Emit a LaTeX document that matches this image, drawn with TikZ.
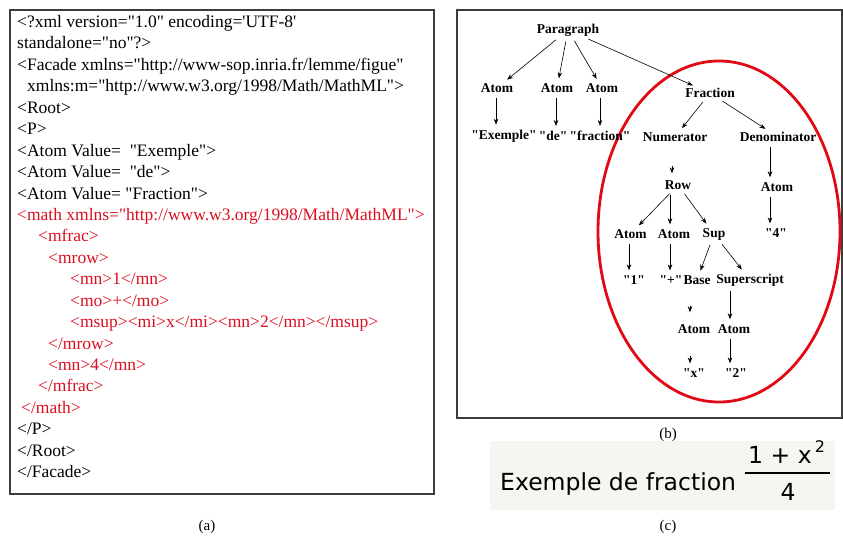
\documentclass[tikz,border=0pt]{standalone}
\usepackage{fontspec}
\setmainfont{Liberation Serif}[Ligatures=TeXOff]
\newfontfamily\dvsans{DejaVu Sans}
\usetikzlibrary{arrows.meta}
\definecolor{codered}{RGB}{218,16,32}
\definecolor{ellred}{RGB}{225,10,20}
\definecolor{boxgray}{RGB}{60,60,60}
\definecolor{cbg}{RGB}{244,246,241}
\begin{document}
\begin{tikzpicture}[x=1pt,y=-1pt,
  code/.style={anchor=base west, inner sep=0pt, font=\fontsize{17.5}{21}\selectfont},
  rcode/.style={code, text=codered},
  tn/.style={font=\bfseries\fontsize{13.5}{15}\selectfont, inner sep=1pt},
  arr/.style={-{Stealth[length=6pt,width=4.5pt]}, line width=0.6pt, shorten <=4pt, shorten >=4pt},
  tip/.style={-{Stealth[length=6pt,width=4.5pt]}, line width=0.6pt},
  capt/.style={font=\fontsize{15}{17}\selectfont, inner sep=0pt},
  panel/.style={draw=boxgray, line width=1.2pt},
  csans/.style={font=\dvsans\fontsize{23.5}{26}\selectfont, inner sep=0pt}]
\useasboundingbox (0,0) rectangle (843,541);
% ---------- panel (a)
\draw[panel] (10,10) rectangle (434,494);
\node[code] (l1) at (17,27.5) {<?xml version="1.0" encoding='UTF-8'};
\node[code] (l2) at (17,48.9) {standalone="no"?>};
\node[code] (l3) at (17,70.4) {<Facade xmlns="http://www-sop.inria.fr/lemme/figue"};
\node[code] (l4) at (27,91.8) {xmlns:m="http://www.w3.org/1998/Math/MathML">};
\node[code] (l5) at (17,113.2) {<Root>};
\node[code] (l6) at (17,134.7) {<P>};
\node[code] (l7) at (17,156.1) {<Atom Value=\ \ "Exemple">};
\node[code] (l8) at (17,177.5) {<Atom Value=\ \ "de">};
\node[code] (l9) at (17,199.0) {<Atom Value= "Fraction">};
\node[rcode] (l10) at (17,220.4) {<math xmlns="http://www.w3.org/1998/Math/MathML">};
\node[rcode] (l11) at (38,241.8) {<mfrac>};
\node[rcode] (l12) at (48,263.3) {<mrow>};
\node[rcode] (l13) at (70,284.7) {<mn>1</mn>};
\node[rcode] (l14) at (70,306.1) {<mo>+</mo>};
\node[rcode] (l15) at (70,327.6) {<msup><mi>x</mi><mn>2</mn></msup>};
\node[rcode] (l16) at (48,349.0) {</mrow>};
\node[rcode] (l17) at (48,370.4) {<mn>4</mn>};
\node[rcode] (l18) at (38,391.9) {</mfrac>};
\node[rcode] (l19) at (21,413.3) {</math>};
\node[code] (l20) at (17,434.7) {</P>};
\node[code] (l21) at (17,456.2) {</Root>};
\node[code] (l22) at (17,477.6) {</Facade>};
\node[capt] (capa) at (207,527) {(a)};
% ---------- panel (b)
\draw[panel] (457,10) rectangle (842,418);
\draw[ellred, line width=2.8pt] (719,231.5) ellipse [x radius=121pt, y radius=170.5pt];
\node[tn] (para) at (568,30) {Paragraph};
\node[tn] (a1) at (497,88) {Atom};
\node[tn] (a2) at (557,88) {Atom};
\node[tn] (a3) at (602,88) {Atom};
\node[tn] (frac) at (710,93) {Fraction};
\node[tn] (s1) at (504,136) {"Exemple"};
\node[tn] (s2) at (553,136) {"de"};
\node[tn] (s3) at (600,136) {"fraction"};
\node[tn] (num) at (675,137) {Numerator};
\node[tn] (den) at (778,137) {Denominator};
\node[tn] (row) at (678,185) {Row};
\node[tn] (aden) at (777,187) {Atom};
\node[tn] (r1) at (630.5,234) {Atom};
\node[tn] (r2) at (674,234) {Atom};
\node[tn] (sup) at (714,234) {Sup};
\node[tn] (four) at (776,233) {"4"};
\node[tn] (q1) at (634,280) {"1"};
\node[tn] (qplus) at (671,280) {"+"};
\node[tn] (base) at (697,280) {Base};
\node[tn] (supscr) at (750,280) {Superscript};
\node[tn] (ax) at (694,329) {Atom};
\node[tn] (a2b) at (734,329) {Atom};
\node[tn] (qx) at (694,373) {"x"};
\node[tn] (q2) at (736,373) {"2"};
\draw[arr] (para) -- (a1);
\draw[arr] (para) -- (a2);
\draw[arr] (para) -- (a3);
\draw[arr] (para) -- (frac);
\draw[arr] ([xshift=-1pt]a1.south) -- ([xshift=-1pt]a1.south |- s1.north);
\draw[arr] ([xshift=-1pt]a2.south) -- ([xshift=-1pt]a2.south |- s2.north);
\draw[arr] ([xshift=-2pt]a3.south) -- ([xshift=-2pt]a3.south |- s3.north);
\draw[arr] (frac) -- (num);
\draw[arr] (frac) -- (den);
\draw[tip] ([xshift=-6pt,yshift=13pt]row.north) -- ([xshift=-6pt,yshift=6pt]row.north);
\draw[arr] ([xshift=-7pt]aden.north |- den.south) -- ([xshift=-7pt]aden.north);
\draw[arr] (row) -- (r1);
\draw[arr] ([xshift=-4pt]r2.north |- row.south) -- ([xshift=-4pt]r2.north);
\draw[arr] (row) -- (sup);
\draw[arr] ([xshift=-7pt]aden.south) -- ([xshift=-7pt]aden.south |- four.north);
\draw[arr] ([xshift=-1.5pt]r1.south) -- ([xshift=-1.5pt]r1.south |- q1.north);
\draw[arr] ([xshift=-4pt]r2.south) -- ([xshift=-4pt]r2.south |- qplus.north);
\draw[arr] (sup) -- (base);
\draw[arr] (sup) -- (supscr);
\draw[tip] ([xshift=-4pt,yshift=17pt]ax.north) -- ([xshift=-4pt,yshift=11pt]ax.north);
\draw[arr] ([xshift=-4pt]a2b.north |- supscr.south) -- ([xshift=-4pt]a2b.north);
\draw[tip] ([xshift=-4pt,yshift=11pt]qx.north) -- ([xshift=-4pt,yshift=4pt]qx.north);
\draw[arr] ([xshift=-4pt]a2b.south) -- ([xshift=-4pt]a2b.south |- q2.north);
\node[capt] (capb) at (668,435) {(b)};
% ---------- panel (c)
\fill[cbg] (490,441) rectangle (835,510);
\node[csans, anchor=base west] (ex) at (500,490) {Exemple de fraction};
\node[csans, anchor=base west] (numr) at (748,463) {1 + x};
\node[font=\dvsans\fontsize{16}{18}\selectfont, inner sep=0pt, anchor=base] (sup2) at (820,452) {2};
\node[csans, anchor=base] (den4) at (788,500) {4};
\draw[line width=1.8pt] (745,473) -- (830,473);
\node[capt] (capc) at (668,527) {(c)};
\end{tikzpicture}
\end{document}
